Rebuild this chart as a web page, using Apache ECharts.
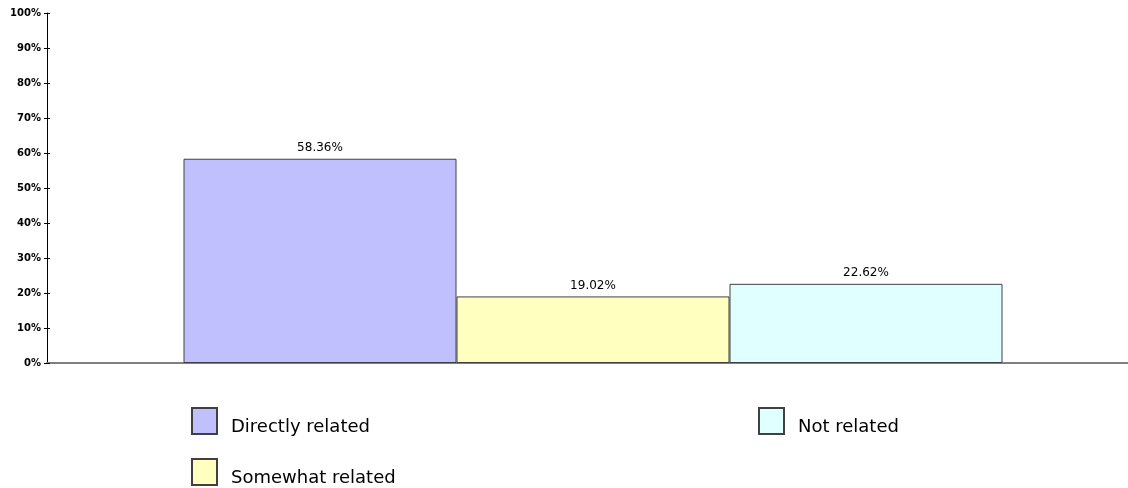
<!DOCTYPE html>
<html>
<head>
<meta charset="utf-8">
<script src="https://cdn.jsdelivr.net/npm/echarts@6/dist/echarts.min.js"></script>
<style>html,body{margin:0;padding:0;background:#fff}#c{width:1128px;height:488px}</style>
</head>
<body>
<div id="c"></div>
<script>
const categories = [''];
const seriesNames = ['Directly related', 'Somewhat related', 'Not related'];
const seriesValues = [[58.36], [19.02], [22.62]];
const colors = ['#c0c0ff', '#ffffc0', '#e0ffff'];
const yTicks = [0, 10, 20, 30, 40, 50, 60, 70, 80, 90, 100];

const chart = echarts.init(document.getElementById('c'));
const series = seriesNames.map((name, i) => ({
  name: name,
  type: 'bar',
  data: seriesValues[i],
  barGap: '0%',
  barCategoryGap: '25%',
  itemStyle: { color: colors[i], borderColor: '#404040', borderWidth: 1 },
  label: {
    show: true, position: 'top', distance: 5,
    formatter: p => p.value.toFixed(2) + '%',
    fontFamily: 'DejaVu Sans', fontSize: 12, color: '#000'
  }
}));
const legendCommon = {
  orient: 'horizontal', itemWidth: 25, itemHeight: 38,
  icon: 'path://M0,0L25,0L25,26L0,26Z M0,38',
  selectedMode: false, padding: 0,
  textStyle: { fontFamily: 'DejaVu Sans', fontSize: 18, color: '#000', padding: [0, 0, 0, 9] }
};
chart.setOption({
  animation: false,
  backgroundColor: '#fff',
  grid: { left: 47, width: 1092, top: 13, bottom: 125, outerBoundsMode: 'none' },
  xAxis: {
    type: 'category', data: categories,
    axisLine: { lineStyle: { color: '#808080', width: 2 } },
    axisTick: { show: false }, axisLabel: { show: false }
  },
  yAxis: [{
    type: 'value', min: yTicks[0], max: yTicks[yTicks.length - 1], interval: 10,
    axisLine: { show: true, lineStyle: { color: '#000', width: 1 } },
    axisTick: { show: true, length: 3, lineStyle: { color: '#000' } },
    axisLabel: { formatter: '{value}%', fontFamily: 'DejaVu Sans', fontWeight: 'bold', fontSize: 10, color: '#000', margin: 6 },
    splitLine: { show: false }
  }, {
    type: 'value', min: yTicks[0], max: yTicks[yTicks.length - 1], interval: 10, position: 'left',
    axisLine: { show: false },
    axisTick: { show: true, inside: true, length: 3, lineStyle: { color: '#000' } },
    axisLabel: { show: false }, splitLine: { show: false }
  }],
  legend: [
    Object.assign({ left: 191, top: 407, data: [seriesNames[0]] }, legendCommon),
    Object.assign({ left: 758, top: 407, data: [seriesNames[2]] }, legendCommon),
    Object.assign({ left: 191, top: 458, data: [seriesNames[1]] }, legendCommon)
  ],
  series: series
});
</script>
</body>
</html>
